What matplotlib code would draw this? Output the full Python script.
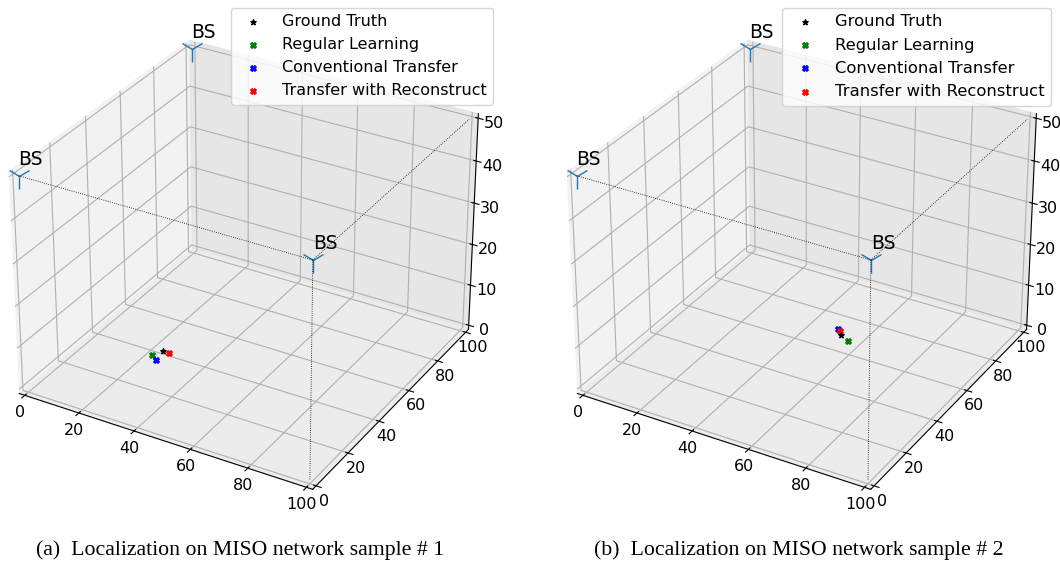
import numpy as np
import matplotlib
matplotlib.use('Agg')
import matplotlib.pyplot as plt

plt.rcParams['axes3d.automargin'] = True

bs_x = [0, 0, 100]
bs_y = [0, 100, 0]
bs_z = [50, 50, 50]

labels = ['Ground Truth', 'Regular Learning', 'Conventional Transfer', 'Transfer with Reconstruct']
markers = ['*', 'X', 'X', 'X']
colors = ['black', 'green', 'blue', 'red']

# estimated x, y, z per method
sample1 = [(25, 39.4, 0), (23, 35.7, 0), (26, 33.7, 0), (27.3, 39.4, 0)]
sample2 = [(53.2, 66.8, 0), (57, 64.8, 0), (50.4, 69.6, 0), (51.6, 68.8, 0)]

captions = ['(a)  Localization on MISO network sample # 1',
            '(b)  Localization on MISO network sample # 2']

TICK_SIZE = 11.5


def draw(ax, sample):
    for (x, y, z), m, c, lab in zip(sample, markers, colors, labels):
        ax.scatter([x], [y], [z], marker=m, c=c, s=16, label=lab, depthshade=False)
    ax.plot(bs_x, bs_y, bs_z, linestyle='none', marker='1', ms=18, color='tab:blue')
    for x, y, z in zip(bs_x, bs_y, bs_z):
        ax.text(x, y, z + 2.5, 'BS', fontsize=13.5)
    # dotted guides between the stations and down to the floor
    ax.plot([0, 100], [0, 0], [50, 50], 'k:', lw=0.6)
    ax.plot([100, 100], [0, 100], [50, 50], 'k:', lw=0.6)
    ax.plot([100, 100], [0, 0], [50, 0], 'k:', lw=0.6)
    ax.set_xlim(0, 100)
    ax.set_ylim(0, 100)
    ax.set_zlim(0, 50)
    ax.set_xticks(range(0, 101, 20))
    ax.set_yticks(range(0, 101, 20))
    ax.set_zticks(range(0, 51, 10))
    ax.tick_params(axis='x', labelsize=TICK_SIZE, pad=-3)
    ax.tick_params(axis='y', labelsize=TICK_SIZE, pad=-3)
    ax.tick_params(axis='z', labelsize=TICK_SIZE, pad=-1)
    ax.xaxis.set_pane_color((0.95, 0.95, 0.95, 1))
    ax.yaxis.set_pane_color((0.9, 0.9, 0.9, 1))
    ax.zaxis.set_pane_color((0.925, 0.925, 0.925, 1))
    # no axis labels on this one, the empty ones just sit off the figure
    for axis in (ax.xaxis, ax.yaxis, ax.zaxis):
        axis.label.set_visible(False)
        axis.get_offset_text().set_visible(False)
    ax.view_init(elev=30, azim=-60)


fig = plt.figure(figsize=(10.6, 5.61), dpi=100)
boxes = [[-0.0207, 0.069, 0.496, 0.931], [0.5058, 0.069, 0.496, 0.931]]
legend_at = [(0.4652, 0.986), (0.9915, 0.986)]
legend_size = [TICK_SIZE, 11.8]
for i, sample in enumerate([sample1, sample2]):
    ax = fig.add_axes(boxes[i], projection='3d')
    ax.patch.set_alpha(0)
    draw(ax, sample)
    fig.legend(*ax.get_legend_handles_labels(), loc='upper right', bbox_to_anchor=legend_at[i],
               fontsize=legend_size[i], borderaxespad=0)

fig.text(0.2265, 0.011, captions[0], family='Liberation Serif', fontsize=15.7, ha='center')
fig.text(0.7533, 0.011, captions[1], family='Liberation Serif', fontsize=15.7, ha='center')

fig.savefig('out.png', dpi=100)
